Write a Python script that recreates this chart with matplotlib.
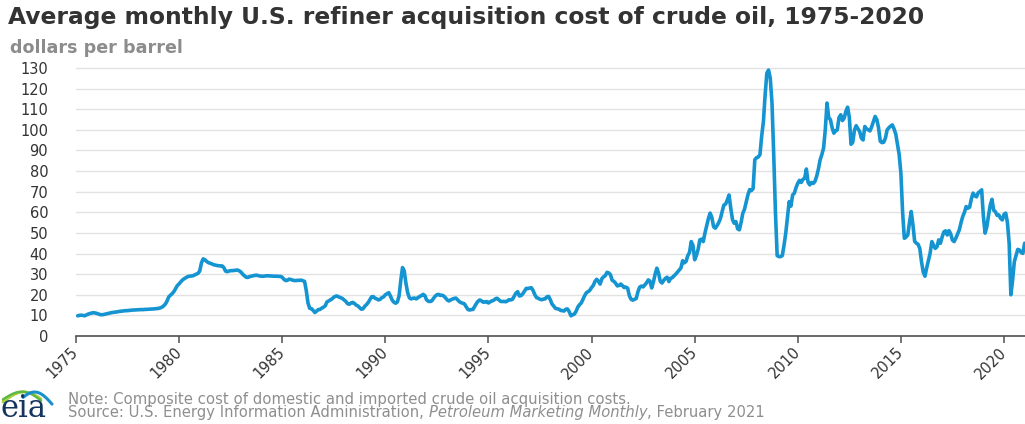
import numpy as np
import matplotlib
matplotlib.use("Agg")
import matplotlib.pyplot as plt

# Monthly U.S. refiner acquisition cost of crude oil (composite), dollars per barrel
rac_1975 = [9.8, 10.0, 10.1, 10.0, 9.8, 10.2, 10.6, 10.9, 11.1, 11.3, 11.2, 11.0]
rac_1976 = [10.7, 10.4, 10.3, 10.4, 10.6, 10.8, 11.0, 11.2, 11.4, 11.5, 11.6, 11.7]
rac_1977 = [11.9, 12.0, 12.1, 12.2, 12.3, 12.3, 12.4, 12.5, 12.6, 12.6, 12.7, 12.7]
rac_1978 = [12.8, 12.8, 12.8, 12.9, 12.9, 13.0, 13.0, 13.1, 13.1, 13.2, 13.3, 13.4]
rac_1979 = [13.6, 14.0, 14.6, 15.5, 17.0, 19.0, 19.8, 20.6, 21.6, 23.0, 24.5, 25.3]
rac_1980 = [26.3, 27.2, 27.8, 28.3, 28.8, 29.0, 29.1, 29.2, 29.6, 30.0, 30.4, 31.5]
rac_1981 = [35.5, 37.4, 37.0, 36.2, 35.6, 35.3, 35.0, 34.6, 34.4, 34.2, 34.1, 34.0]
rac_1982 = [34.0, 33.2, 31.5, 31.2, 31.5, 31.7, 31.7, 31.8, 31.9, 32.0, 31.6, 31.0]
rac_1983 = [30.0, 29.2, 28.5, 28.4, 28.8, 29.0, 29.2, 29.4, 29.5, 29.3, 29.1, 29.0]
rac_1984 = [29.0, 29.1, 29.2, 29.2, 29.1, 29.1, 29.0, 29.0, 29.0, 28.9, 28.9, 28.5]
rac_1985 = [27.5, 26.9, 27.0, 27.6, 27.4, 27.1, 26.9, 26.9, 27.0, 27.0, 27.1, 26.8]
rac_1986 = [26.5, 22.0, 16.0, 13.4, 13.3, 12.4, 11.4, 12.1, 12.8, 12.9, 13.5, 14.0]
rac_1987 = [14.6, 16.5, 17.0, 17.5, 18.0, 18.8, 19.3, 19.4, 18.9, 18.6, 18.2, 17.5]
rac_1988 = [16.8, 15.7, 15.4, 16.0, 16.3, 15.8, 15.0, 14.6, 13.8, 13.0, 13.2, 14.4]
rac_1989 = [15.2, 16.2, 17.6, 19.0, 19.1, 18.3, 18.0, 17.5, 17.8, 18.6, 19.0, 20.0]
rac_1990 = [20.5, 21.0, 19.3, 17.4, 16.4, 15.9, 16.5, 19.5, 27.0, 33.2, 31.5, 25.5]
rac_1991 = [21.0, 18.5, 18.0, 18.3, 18.4, 18.0, 18.6, 19.2, 19.6, 20.2, 19.6, 17.5]
rac_1992 = [16.9, 16.7, 17.0, 18.2, 19.3, 20.0, 20.2, 19.7, 19.8, 19.4, 18.5, 17.5]
rac_1993 = [17.0, 17.5, 17.9, 18.2, 18.4, 17.6, 16.7, 16.2, 15.9, 15.6, 14.2, 12.9]
rac_1994 = [12.6, 12.8, 12.9, 14.3, 15.8, 16.9, 17.5, 17.0, 16.4, 16.5, 16.7, 16.0]
rac_1995 = [16.6, 17.0, 17.3, 18.0, 18.3, 17.6, 16.8, 16.7, 16.8, 16.6, 17.0, 17.6]
rac_1996 = [17.5, 17.8, 19.3, 20.8, 21.5, 19.4, 19.6, 20.5, 21.8, 23.1, 23.0, 23.3]
rac_1997 = [23.4, 22.0, 20.0, 18.6, 18.3, 17.8, 17.6, 17.9, 18.0, 19.0, 19.2, 17.6]
rac_1998 = [15.5, 14.5, 13.4, 13.2, 13.0, 12.4, 12.3, 12.1, 13.0, 13.1, 11.8, 9.8]
rac_1999 = [10.3, 10.6, 12.0, 14.0, 15.2, 16.0, 17.8, 19.6, 21.0, 21.5, 22.2, 23.5]
rac_2000 = [24.5, 26.5, 27.5, 26.5, 25.2, 27.8, 28.7, 29.3, 30.9, 30.6, 29.7, 27.0]
rac_2001 = [26.5, 25.6, 24.3, 24.5, 25.2, 24.4, 23.5, 23.7, 23.2, 19.5, 17.8, 17.4]
rac_2002 = [17.8, 18.2, 21.5, 23.7, 24.2, 23.8, 24.8, 25.8, 27.2, 26.6, 23.3, 26.2]
rac_2003 = [30.0, 32.9, 30.5, 26.5, 25.7, 27.0, 28.0, 28.5, 26.4, 28.0, 28.3, 29.2]
rac_2004 = [30.0, 31.0, 32.0, 33.0, 36.5, 35.5, 36.2, 39.0, 40.5, 45.8, 44.0, 37.0]
rac_2005 = [39.0, 42.0, 46.6, 47.0, 45.8, 50.0, 53.5, 57.0, 59.6, 57.5, 53.0, 52.3]
rac_2006 = [53.5, 55.0, 57.0, 60.4, 63.5, 64.0, 66.0, 68.4, 62.0, 56.5, 54.7, 55.5]
rac_2007 = [52.0, 51.5, 55.0, 59.5, 61.5, 65.0, 68.5, 71.0, 70.5, 71.5, 85.5, 86.5]
rac_2008 = [86.8, 88.0, 97.0, 104.0, 117.0, 127.5, 129.0, 125.0, 113.0, 88.0, 60.0, 39.0]
rac_2009 = [38.5, 38.5, 39.0, 44.0, 49.9, 57.5, 65.2, 63.0, 68.4, 69.3, 72.0, 74.1]
rac_2010 = [75.5, 74.5, 76.0, 76.5, 81.0, 74.5, 73.3, 74.5, 74.0, 75.0, 77.5, 81.0]
rac_2011 = [85.4, 88.0, 91.1, 100.0, 113.0, 106.0, 104.9, 101.0, 98.4, 99.5, 100.0, 106.0]
rac_2012 = [107.3, 104.5, 105.7, 109.0, 111.0, 106.0, 93.0, 94.0, 100.0, 102.0, 100.5, 99.2]
rac_2013 = [96.0, 95.1, 101.6, 100.5, 100.0, 99.5, 101.5, 104.0, 106.5, 105.0, 101.0, 94.5]
rac_2014 = [93.8, 94.0, 96.0, 100.0, 101.0, 101.8, 102.4, 100.5, 98.0, 93.0, 88.0, 79.0]
rac_2015 = [60.0, 47.4, 48.0, 49.0, 55.0, 60.4, 54.0, 46.0, 45.0, 44.5, 42.5, 36.0]
rac_2016 = [31.0, 29.0, 33.0, 36.5, 40.1, 45.8, 44.0, 42.5, 43.3, 46.6, 45.0, 48.0]
rac_2017 = [50.5, 51.0, 49.0, 51.1, 49.5, 46.5, 45.8, 47.5, 49.5, 51.5, 55.0, 58.0]
rac_2018 = [60.0, 62.8, 62.0, 62.5, 66.5, 69.3, 68.0, 67.5, 69.5, 70.1, 70.9, 58.0]
rac_2019 = [49.9, 53.0, 58.5, 63.5, 66.3, 61.0, 60.3, 58.5, 58.7, 57.1, 56.3, 59.0]
rac_2020 = [59.6, 55.0, 45.0, 20.0, 27.0, 36.0, 39.0, 42.0, 41.7, 40.5, 40.1, 45.0]

yearly = [rac_1975, rac_1976, rac_1977, rac_1978, rac_1979, rac_1980, rac_1981,
          rac_1982, rac_1983, rac_1984, rac_1985, rac_1986, rac_1987, rac_1988,
          rac_1989, rac_1990, rac_1991, rac_1992, rac_1993, rac_1994, rac_1995,
          rac_1996, rac_1997, rac_1998, rac_1999, rac_2000, rac_2001, rac_2002,
          rac_2003, rac_2004, rac_2005, rac_2006, rac_2007, rac_2008, rac_2009,
          rac_2010, rac_2011, rac_2012, rac_2013, rac_2014, rac_2015, rac_2016,
          rac_2017, rac_2018, rac_2019, rac_2020]
start_year = 1975

x_ticks = [1975, 1980, 1985, 1990, 1995, 2000, 2005, 2010, 2015, 2020]
x_tick_labels = ["1975", "1980", "1985", "1990", "1995", "2000", "2005", "2010", "2015", "2020"]
y_ticks = [0, 10, 20, 30, 40, 50, 60, 70, 80, 90, 100, 110, 120, 130]

title = "Average monthly U.S. refiner acquisition cost of crude oil, 1975-2020"
units = "dollars per barrel"
note = "Note: Composite cost of domestic and imported crude oil acquisition costs."
source_parts = ["Source: U.S. Energy Information Administration, ",
                "Petroleum Marketing Monthly", ", February 2021"]

values = np.concatenate([np.asarray(v, dtype=float) for v in yearly])
months = start_year + np.arange(1, len(values) + 1) / 12.0

# ---- figure layout (pixel based) ----
W, H = 1025, 424
fig = plt.figure(figsize=(W / 100, H / 100), dpi=100)
plt.rcParams['font.family'] = ['DejaVu Sans']


def fx(px):
    return px / W


def fy(py):
    return 1 - py / H


px_per_year = (1004 - 76) / 45.0
x_left, x_right = 76, 1025
y_bottom = 336
px_per_unit = (336 - 68) / 130.0
y_max = 132
y_top = y_bottom - y_max * px_per_unit

ax = fig.add_axes([fx(x_left), fy(y_bottom), (x_right - x_left) / W, (y_bottom - y_top) / H])
ax.plot(months, values, color='#1494d1', lw=2.6, solid_joinstyle='round',
        solid_capstyle='round', clip_on=True)

ax.set_xlim(start_year, start_year + (x_right - x_left) / px_per_year)
ax.set_ylim(0, y_max)

ax.set_yticks(y_ticks)
ax.set_yticklabels([str(v) for v in y_ticks])
ax.set_xticks(x_ticks)
ax.set_xticklabels(x_tick_labels, rotation=45, ha='right', va='center',
                   rotation_mode='anchor')

ax.yaxis.grid(True, color='#e2e2e2', lw=1.0)
ax.set_axisbelow(True)
for side in ('top', 'right', 'left'):
    ax.spines[side].set_visible(False)
ax.spines['bottom'].set_color('#505050')
ax.spines['bottom'].set_linewidth(1.2)

ax.tick_params(axis='y', length=0, pad=20, labelsize=10.5, labelcolor='#333333')
ax.tick_params(axis='x', length=5, width=1.1, color='#505050', pad=5,
               labelsize=10.5, labelcolor='#333333')

# ---- titles ----
fig.text(fx(8), fy(24), title, fontsize=16.8, fontweight='bold', color='#333333',
         ha='left', va='baseline')
fig.text(fx(10), fy(53), units, fontsize=12.6, fontweight='bold', color='#8c8c8c',
         ha='left', va='baseline')

# ---- footer ----
note_color = '#8e8e8e'
fig.text(fx(68), fy(404), note, fontsize=10.7, color=note_color, ha='left', va='baseline')

fig.canvas.draw()
renderer = fig.canvas.get_renderer()
cursor = fx(68)
for i, part in enumerate(source_parts):
    t = fig.text(cursor, fy(417), part, fontsize=10.6, color=note_color, ha='left',
                 va='baseline', style='italic' if i == 1 else 'normal')
    bb = t.get_window_extent(renderer=renderer)
    cursor += bb.width / W

# ---- eia logo ----
logo = fig.add_axes([0, 0, fx(62), 38 / H])
logo.set_xlim(0, 62)
logo.set_ylim(424, 386)
logo.axis('off')
logo.text(1, 416.5, "eia", fontsize=22, family='DejaVu Serif', color='#13355e',
          ha='left', va='baseline')
tt = np.linspace(0, 1, 40)
for dy, col in [(0, '#8dc63f'), (2.2, '#c4d82e'), (4.4, '#5fb846')]:
    xs = 3 + 38 * tt
    ys = 402 + dy * 0.4 - 10 * np.sin(np.pi * tt * 0.9) - dy * (1 - tt)
    logo.plot(xs, ys, color=col, lw=1.8, solid_capstyle='round')
tb = np.linspace(0.15, 1.0, 40)
logo.plot(18 + 34 * tb, 402 - 12 * np.sin(np.pi * tb * 0.95) + 4 * tb, color='#1a8fd0',
          lw=2.2, solid_capstyle='round')

fig.savefig("out.png", dpi=100)
